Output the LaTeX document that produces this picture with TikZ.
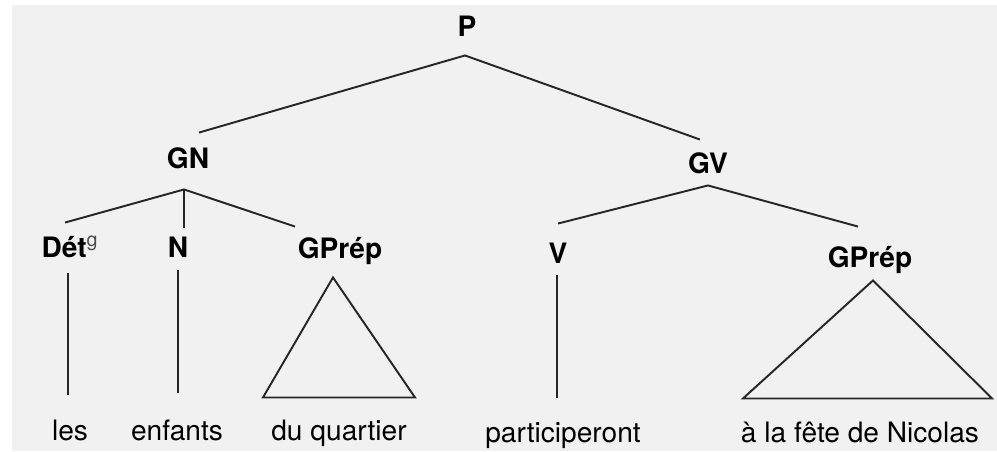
\documentclass[tikz,border=0pt]{standalone}
\usepackage{fontspec}
\setmainfont{TeX Gyre Heros}
\tikzset{
  cat/.style={inner sep=0pt, text height=11.5pt, text depth=0pt, font=\fontsize{16}{19}\selectfont\bfseries},
  word/.style={inner sep=0pt, text height=11.5pt, text depth=0pt, font=\fontsize{16}{19}\selectfont},
  branch/.style={line width=1.1pt, black!85}
}
\begin{document}
\begin{tikzpicture}[x = 0.02cm, y = -0.02cm]
                  \useasboundingbox (0,0) rectangle (997,451);
                  \fill[gray!11] (12,5) rectangle (997,451);
                  \node[cat] (P) at (467,26) {P};
                  \node[cat] (GN) at (188,158) {GN};
                  \node[cat] (GV) at (708,163) {GV};
                  \node[cat] (Det) at (70,247) {Dét\textsuperscript{\normalfont\color{black!70}g}};
                  \node[cat] (N) at (178,247) {N};
                  \node[cat] (GPa) at (340,248) {GPrép};
                  \node[cat] (V) at (558,253) {V};
                  \node[cat] (GPb) at (870,257) {GPrép};
                  \node[word] (les) at (70,430) {les};
                  \node[word] (enfants) at (177,430) {enfants};
                  \node[word] (quartier) at (339,430) {du quartier};
                  \node[word] (participeront) at (563,432) {participeront};
                  \node[word] (fete) at (860,432) {à la fête de Nicolas};
                  \draw[branch] ([shift={(11,-15)}]GN.north) -- ([shift={(-2,19)}]P.south) -- ([shift={(-8,-13)}]GV.north);
                  \draw[branch] ([shift={(-5,-14)}]Det.north) -- ([shift={(-4,21)}]GN.south) -- ([shift={(-45,-11)}]GPa.north);
                  \draw[branch] ([shift={(-4,21)}]GN.south) -- ([shift={(6,-9)}]N.north);
                  \draw[branch] ([shift={(0,-19)}]V.north) -- ([shift={(0,12)}]GV.south) -- ([shift={(-12,-20)}]GPb.north);
                  \draw[branch] ([shift={(-2,16)}]Det.south) -- ([shift={(-2,-25)}]les.north);
                  \draw[branch] ([shift={(0,13)}]N.south) -- ([shift={(1,-27)}]enfants.north);
                  \draw[branch] ([shift={(-1,12)}]V.south) -- ([shift={(-6,-24)}]participeront.north);
                  \draw[branch] ([shift={(-7,19)}]GPa.south) -- ([shift={(-77,139)}]GPa.south) -- ([shift={(75,139)}]GPa.south) -- cycle;
                  \draw[branch] ([shift={(3,13)}]GPb.south) -- ([shift={(-127,131)}]GPb.south) -- ([shift={(122,131)}]GPb.south) -- cycle;
              \end{tikzpicture}
\end{document}
